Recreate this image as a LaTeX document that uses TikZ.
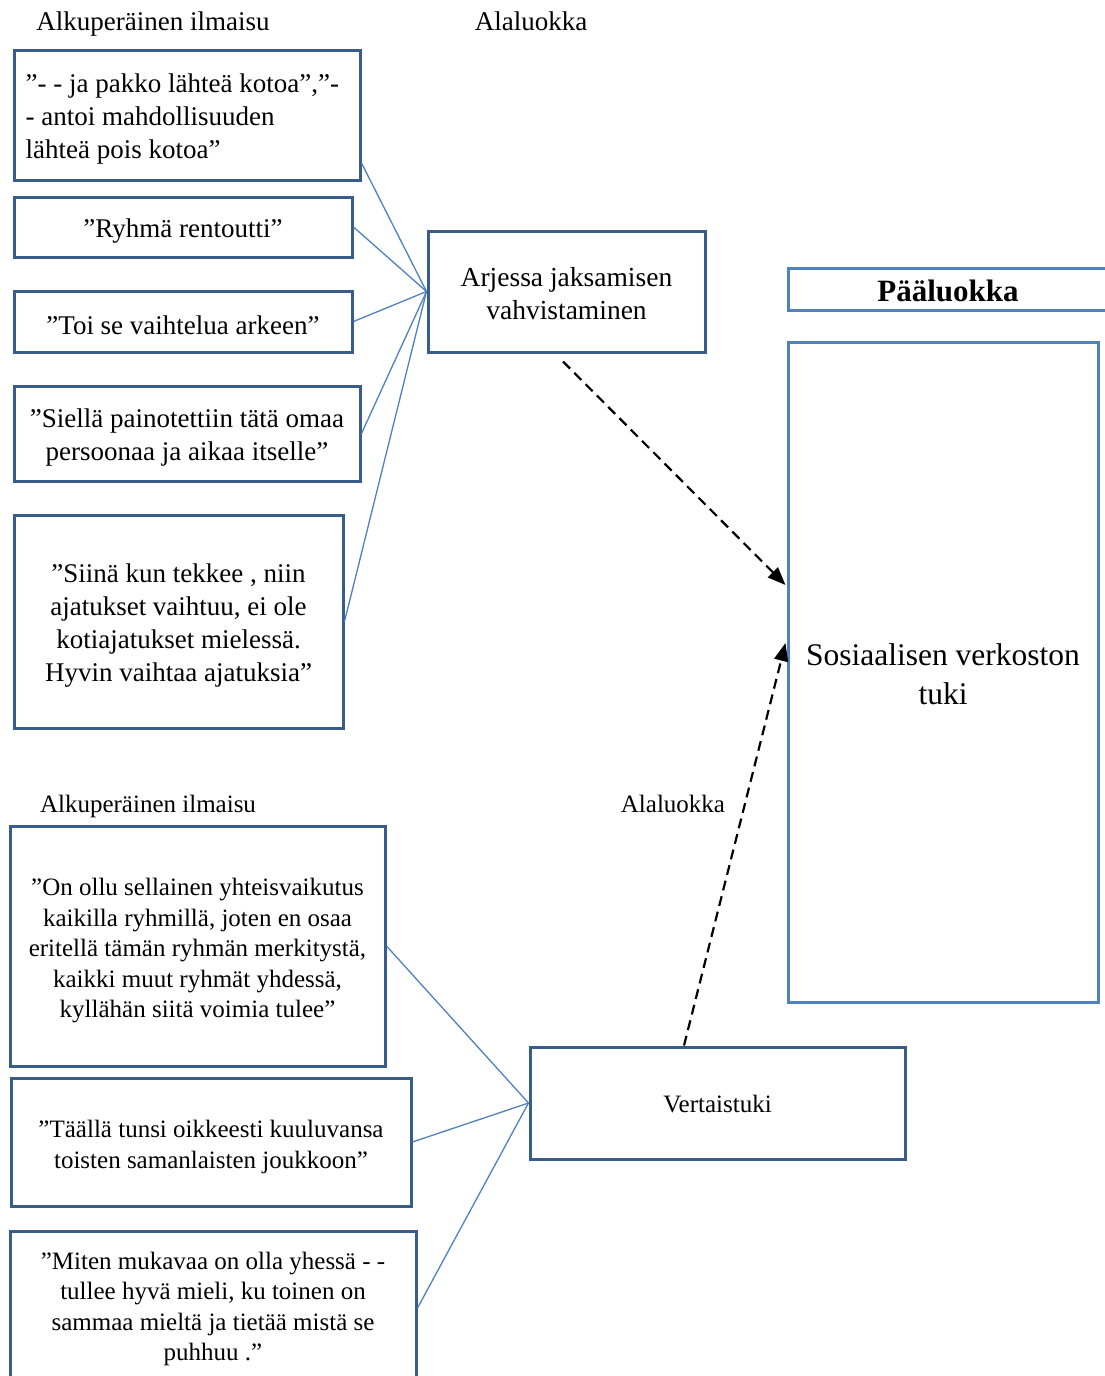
\documentclass[tikz,border=0pt]{standalone}
\usepackage{fontspec}
\setmainfont{Liberation Serif}
\usetikzlibrary{arrows.meta}
\definecolor{boxblue}{HTML}{385D8A}
\definecolor{lightblue}{HTML}{4F81BD}
\begin{document}
\begin{tikzpicture}[x=1pt,y=-1pt,
  box/.style={draw=boxblue, line width=3pt, inner sep=0pt},
  pbox/.style={draw=lightblue, line width=3pt, inner sep=0pt},
  txt/.style={inner sep=0pt, align=center, font=\fontsize{27}{33}\selectfont},
  lowtxt/.style={txt, font=\fontsize{25}{30.5}\selectfont},
  link/.style={draw=lightblue, line width=1.3pt},
  darrow/.style={draw=black, line width=2.2pt, dash pattern=on 10pt off 6pt, -{Triangle[length=18pt,width=14pt]}},
  hdr/.style={inner sep=0pt, anchor=base, font=\fontsize{27}{33}\selectfont},
  lowhdr/.style={inner sep=0pt, anchor=base, font=\fontsize{25}{30}\selectfont}
]
\useasboundingbox (0,0) rectangle (1105,1376);

% headers
\node[hdr] (h1) at (153,30.5) {Alkuperäinen ilmaisu};
\node[hdr] (h2) at (531,30.5) {Alaluokka};
\node[lowhdr] (h3) at (148,812.5) {Alkuperäinen ilmaisu};
\node[lowhdr] (h4) at (673,812.5) {Alaluokka};

% top quote boxes
\node[box, minimum width=346pt, minimum height=130pt] (b1) at (187,115) {};
\node[txt, align=left, anchor=west] (t1) at ([xshift=13pt,yshift=-4pt]b1.west)
  {”- - ja pakko lähteä kotoa”,”-\\- antoi mahdollisuuden\\lähteä pois kotoa”};
\node[box, minimum width=338pt, minimum height=60pt] (b2) at (183,227) {};
\node[txt] (t2) at ([yshift=-4pt]b2.center) {”Ryhmä rentoutti”};
\node[box, minimum width=338pt, minimum height=61pt] (b3) at (183,321.5) {};
\node[txt] (t3) at ([yshift=-4pt]b3.center) {”Toi se vaihtelua arkeen”};
\node[box, minimum width=346pt, minimum height=95pt] (b4) at (187,433.5) {};
\node[txt] (t4) at ([yshift=-4pt]b4.center) {”Siellä painotettiin tätä omaa\\persoonaa ja aikaa itselle”};
\node[box, minimum width=329pt, minimum height=213pt] (b5) at (178.5,621.5) {};
\node[txt] (t5) at ([yshift=-4pt]b5.center) {”Siinä kun tekkee , niin\\ajatukset vaihtuu, ei ole\\kotiajatukset mielessä.\\Hyvin vaihtaa ajatuksia”};

% subcategory boxes
\node[box, minimum width=277pt, minimum height=121pt] (arj) at (566.5,291.5) {};
\node[txt, font=\fontsize{27.5}{33}\selectfont] (tarj) at ([yshift=-2pt]arj.center) {Arjessa jaksamisen\\vahvistaminen};
\node[box, minimum width=375pt, minimum height=112pt] (vert) at (717.5,1103) {};
\node[txt, font=\fontsize{25}{30}\selectfont] (tvert) at ([yshift=-1pt]vert.center) {Vertaistuki};

% main category
\node[pbox, minimum width=320pt, minimum height=42pt] (paa) at (948,289) {};
\node[txt, font=\bfseries\fontsize{31}{36}\selectfont] (tpaa) at ([yshift=-2pt]paa.center) {Pääluokka};
\node[pbox, minimum width=310pt, minimum height=660pt] (main) at (943,672) {};
\node[txt, font=\fontsize{31.5}{39}\selectfont] (tmain) at ([yshift=-2pt]main.center) {Sosiaalisen verkoston\\tuki};

% bottom quote boxes
\node[box, minimum width=375pt, minimum height=240pt] (c1) at (197.5,946) {};
\node[lowtxt] (tc1) at ([yshift=-5pt]c1.center) {”On ollu sellainen yhteisvaikutus\\kaikilla ryhmillä, joten en osaa\\eritellä tämän ryhmän merkitystä,\\kaikki muut ryhmät yhdessä,\\kyllähän siitä voimia tulee”};
\node[box, minimum width=400pt, minimum height=128pt] (c2) at (211,1142) {};
\node[lowtxt] (tc2) at ([yshift=-5pt]c2.center) {”Täällä tunsi oikkeesti kuuluvansa\\toisten samanlaisten joukkoon”};
\node[box, minimum width=406pt, minimum height=154pt] (c3) at (213,1308) {};
\node[lowtxt] (tc3) at ([yshift=-1pt]c3.center) {”Miten mukavaa on olla yhessä - -\\tullee hyvä mieli, ku toinen on\\sammaa mieltä ja tietää mistä se\\puhhuu .”};

% connectors
\draw[link] ([yshift=-48pt]b1.east) -- (arj.west);
\draw[link] (b2.east) -- (arj.west);
\draw[link] (b3.east) -- (arj.west);
\draw[link] (b4.east) -- (arj.west);
\draw[link] (b5.east) -- (arj.west);
\draw[link] (c1.east) -- (vert.west);
\draw[link] (c2.east) -- (vert.west);
\draw[link] (c3.east) -- (vert.west);

% dashed arrows
\draw[darrow] ([xshift=-3.5pt,yshift=-8pt]arj.south) -- ([xshift=-1pt,yshift=87pt]main.west);
\draw[darrow] ([xshift=-33.5pt]vert.north) -- ([xshift=-1pt,yshift=29pt]main.west);
\end{tikzpicture}
\end{document}
